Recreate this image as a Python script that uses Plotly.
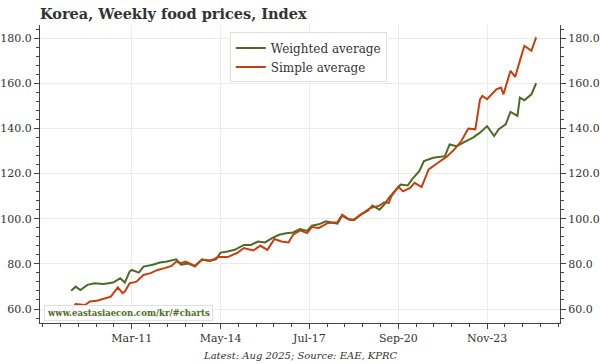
import pandas as pd
import plotly.graph_objects as go

# ---- data ----
weighted_dates = ["2009-01","2009-03","2009-05","2009-08","2009-11","2010-03","2010-07","2010-10","2010-12",
    "2011-02","2011-03","2011-06","2011-08","2011-12","2012-03","2012-06","2012-10","2012-12","2013-03",
    "2013-06","2013-09","2013-12","2014-03","2014-05","2014-08","2014-11","2015-03","2015-06","2015-09",
    "2015-12","2016-03","2016-06","2016-09","2016-12","2017-03","2017-06","2017-08","2017-11","2018-02",
    "2018-07","2018-09","2018-12","2019-02","2019-05","2019-08","2019-10","2020-01","2020-03","2020-05",
    "2020-07","2020-10","2021-01","2021-03","2021-06","2021-08","2021-12","2022-05","2022-07","2022-10",
    "2023-02","2023-05","2023-08","2023-11","2024-02","2024-04","2024-07","2024-09","2024-12","2025-01",
    "2025-03","2025-06","2025-08"]
weighted_values = [68.1,69.9,68.4,70.7,71.4,71.1,71.7,73.6,71.7,
    76.6,77.3,76.1,78.8,79.6,80.6,81.0,82.0,79.6,80.2,
    78.8,82.0,81.3,82.0,85.0,85.5,86.2,88.4,88.4,89.9,
    89.5,91.4,92.9,93.6,93.9,95.4,94.6,96.9,97.5,98.8,
    97.8,101.3,99.6,99.3,101.8,103.5,105.8,104.0,106.2,109.2,
    111.4,115.1,114.7,117.5,121.0,125.5,127.0,127.7,132.9,132.1,
    134.4,135.9,138.1,141.0,136.6,139.6,141.8,147.3,145.5,153.6,
    152.5,155.1,160.0]

simple_dates = ["2009-01","2009-03","2009-07","2009-09","2009-12","2010-02","2010-06","2010-09","2010-11",
    "2010-12","2011-02","2011-05","2011-08","2011-11","2012-02","2012-05","2012-08","2012-10","2012-12",
    "2013-02","2013-06","2013-09","2014-01","2014-04","2014-08","2014-12","2015-03","2015-07","2015-10",
    "2016-01","2016-04","2016-07","2016-10","2016-12","2017-03","2017-06","2017-08","2017-11","2018-03",
    "2018-07","2018-09","2018-12","2019-02","2019-05","2019-09","2020-01","2020-03","2020-05","2020-06",
    "2020-09","2020-11","2021-02","2021-04","2021-07","2021-10","2022-02","2022-06","2022-09","2022-12",
    "2023-03","2023-06","2023-08","2023-09","2023-11","2024-01","2024-03","2024-05","2024-06","2024-09",
    "2024-11","2025-01","2025-03","2025-05","2025-06","2025-08"]
simple_values = [59.6,62.2,61.8,63.3,63.7,64.3,65.5,69.6,67.0,
    67.7,71.4,72.1,75.1,75.9,77.3,78.1,79.1,81.0,80.3,
    81.0,79.1,81.8,81.5,83.0,83.0,84.8,87.0,85.9,88.0,
    86.2,91.0,89.9,89.5,92.9,94.8,93.6,96.3,95.9,98.1,
    98.4,101.8,99.6,99.6,101.8,104.7,105.8,107.3,107.0,109.9,
    114.1,112.1,113.6,115.9,114.0,121.8,124.8,127.7,130.7,134.4,
    139.9,139.6,152.9,154.4,152.9,155.1,157.3,158.1,155.1,165.5,
    162.8,169.9,176.6,175.1,174.4,180.3]

x_tick_dates = ["2011-03-01","2014-05-01","2017-07-01","2020-09-01","2023-11-01"]
x_tick_labels = ["Mar-11","May-14","Jul-17","Sep-20","Nov-23"]
y_ticks = [60, 80, 100, 120, 140, 160, 180]

GREEN = "#4d6b26"
RED = "#c63f0e"
FONT = "DejaVu Serif"

# minor x ticks: 5 subdivisions between majors
majors = pd.to_datetime(x_tick_dates)
step = (majors[1] - majors[0]) / 5
minor_x = [majors[0] + step * k for k in range(-5, 25)]

x_range = ["2007-11-22", "2026-06-08"]
y_range = [53.8, 185.8]

fig = go.Figure()
fig.add_trace(go.Scatter(x=pd.to_datetime(weighted_dates), y=weighted_values, mode="lines",
                         name="Weighted average", line=dict(color=GREEN, width=2)))
fig.add_trace(go.Scatter(x=pd.to_datetime(simple_dates), y=simple_values, mode="lines",
                         name="Simple average", line=dict(color=RED, width=2), yaxis="y2"))

axis_common = dict(
    showline=True, linecolor="#444", linewidth=1, automargin=False,
    ticks="outside", ticklen=5, tickcolor="#444",
    tickfont=dict(family=FONT, size=11, color="#333"),
)

fig.update_layout(
    width=600, height=364,
    margin=dict(l=40, r=40, t=25, b=41, autoexpand=False),
    paper_bgcolor="white", plot_bgcolor="white",
    font=dict(family=FONT, color="#333"),
    title=dict(text="<b>Korea, Weekly food prices, Index</b>", x=0, xref="paper", xanchor="left",
               y=1 - 14 / 364, yanchor="middle", font=dict(family=FONT, size=14.5, color="#333")),
    xaxis=dict(type="date", range=x_range, tickmode="array", tickvals=majors, ticktext=x_tick_labels,
               showgrid=True, gridcolor="#ebebeb", gridwidth=1, zeroline=False,
               minor=dict(tickmode="array", tickvals=minor_x, ticks="outside", ticklen=3,
                          tickcolor="#444", showgrid=False),
               **axis_common),
    yaxis=dict(range=y_range, tickmode="array", tickvals=y_ticks, tickformat=".1f",
               showgrid=True, gridcolor="#ebebeb", gridwidth=1, zeroline=False,
               minor=dict(dtick=4, tick0=0, ticks="outside", ticklen=3, tickcolor="#444", showgrid=False),
               **axis_common),
    yaxis2=dict(range=y_range, overlaying="y", side="right", matches="y", tickmode="array",
                tickvals=y_ticks, tickformat=".1f", showgrid=False, zeroline=False,
                minor=dict(dtick=4, tick0=0, ticks="outside", ticklen=3, tickcolor="#444", showgrid=False),
                **axis_common),
    legend=dict(x=0.365, y=0.975, xanchor="left", yanchor="top", bgcolor="white",
                bordercolor="#e0e0e0", borderwidth=1, font=dict(family=FONT, size=12, color="#333"),
                tracegroupgap=0, itemwidth=30),
    showlegend=True,
)

fig.add_annotation(text="<b>www.eastasiaecon.com/kr/#charts</b>", xref="paper", yref="paper",
                   x=0, y=0.034, xanchor="left", yanchor="middle", xshift=4, showarrow=False,
                   font=dict(family=FONT, size=8.5, color=GREEN), bgcolor="rgba(255,255,255,0.9)",
                   bordercolor="#e0e0e0", borderwidth=1, borderpad=2)

fig.add_annotation(text="<i>Latest: Aug 2025; Source: EAE, KPRC</i>", xref="paper", yref="paper",
                   x=0.5, y=-32 / 298, xanchor="center", yanchor="middle", showarrow=False,
                   font=dict(family=FONT, size=10, color="#333"))

fig.write_html("out.html", config={"displayModeBar": False},
               post_script="document.body.style.margin='0';document.body.style.padding='0';")
